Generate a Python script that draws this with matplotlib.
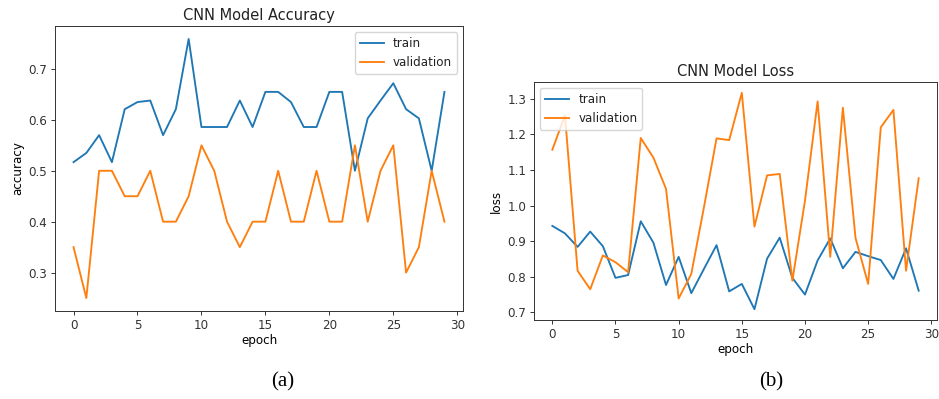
import matplotlib.pyplot as plt

epochs = list(range(30))

acc_train = [0.517, 0.535, 0.570, 0.517, 0.621, 0.635, 0.638, 0.570, 0.621, 0.759,
             0.586, 0.586, 0.586, 0.638, 0.586, 0.655, 0.655, 0.635, 0.586, 0.586,
             0.655, 0.655, 0.500, 0.603, 0.638, 0.672, 0.621, 0.603, 0.500, 0.655]
acc_val = [0.35, 0.25, 0.50, 0.50, 0.45, 0.45, 0.50, 0.40, 0.40, 0.45,
           0.55, 0.50, 0.40, 0.35, 0.40, 0.40, 0.50, 0.40, 0.40, 0.50,
           0.40, 0.40, 0.55, 0.40, 0.50, 0.55, 0.30, 0.35, 0.50, 0.40]

loss_train = [0.943, 0.922, 0.884, 0.927, 0.886, 0.797, 0.805, 0.956, 0.896, 0.777,
              0.856, 0.754, 0.822, 0.889, 0.759, 0.780, 0.709, 0.851, 0.910, 0.797,
              0.750, 0.846, 0.908, 0.824, 0.870, 0.858, 0.847, 0.794, 0.880, 0.761]
loss_val = [1.157, 1.254, 0.817, 0.765, 0.860, 0.841, 0.813, 1.190, 1.135, 1.047,
            0.739, 0.808, 0.995, 1.189, 1.184, 1.317, 0.941, 1.085, 1.089, 0.789,
            1.014, 1.293, 0.856, 1.275, 0.909, 0.780, 1.220, 1.269, 0.817, 1.077]

series_labels = ["train", "validation"]
captions = ["(a)", "(b)"]

fs = 8.6
plt.rcParams.update({
    "font.size": fs,
    "axes.linewidth": 0.7,
    "xtick.major.width": 0.7,
    "ytick.major.width": 0.7,
    "xtick.major.size": 3,
    "ytick.major.size": 3,
    "xtick.major.pad": 2.5,
    "ytick.major.pad": 2.5,
    "axes.edgecolor": "#333333",
    "xtick.color": "#333333",
    "ytick.color": "#333333",
    "text.color": "#222222",
})

W, H = 939, 399
fig = plt.figure(figsize=(W / 100, H / 100), dpi=100)

def px_axes(x0, y0, x1, y1):
    return fig.add_axes([x0 / W, 1 - y1 / H, (x1 - x0) / W, (y1 - y0) / H])

ax1 = px_axes(55, 26, 463, 311)
ax2 = px_axes(534, 82, 937, 320)

lw = 1.35
ax1.plot(epochs, acc_train, color="#1f77b4", lw=lw, label=series_labels[0])
ax1.plot(epochs, acc_val, color="#ff7f0e", lw=lw, label=series_labels[1])
ax1.set_title("CNN Model Accuracy", fontsize=10.5, pad=4)
ax1.set_ylabel("accuracy", labelpad=3)
ax1.set_xlabel("epoch", labelpad=2)
ax1.set_xticks([0, 5, 10, 15, 20, 25, 30])
ax1.set_yticks([0.3, 0.4, 0.5, 0.6, 0.7])
ax1.legend(loc="upper right", fontsize=fs, handlelength=2.0, borderpad=0.4)

ax2.plot(epochs, loss_train, color="#1f77b4", lw=lw, label=series_labels[0])
ax2.plot(epochs, loss_val, color="#ff7f0e", lw=lw, label=series_labels[1])
ax2.set_title("CNN Model Loss", fontsize=10.5, pad=4)
ax2.set_ylabel("loss", labelpad=3)
ax2.set_xlabel("epoch", labelpad=2)
ax2.set_xticks([0, 5, 10, 15, 20, 25, 30])
ax2.set_yticks([0.7, 0.8, 0.9, 1.0, 1.1, 1.2, 1.3])
ax2.legend(loc="upper left", fontsize=fs, handlelength=2.0, borderpad=0.4)

fig.text(283 / W, 1 - 382 / H, captions[0], ha="center", va="center",
         family="Liberation Serif", fontsize=15, color="black")
fig.text(771 / W, 1 - 382 / H, captions[1], ha="center", va="center",
         family="Liberation Serif", fontsize=15, color="black")

fig.savefig("out.png", dpi=100)
